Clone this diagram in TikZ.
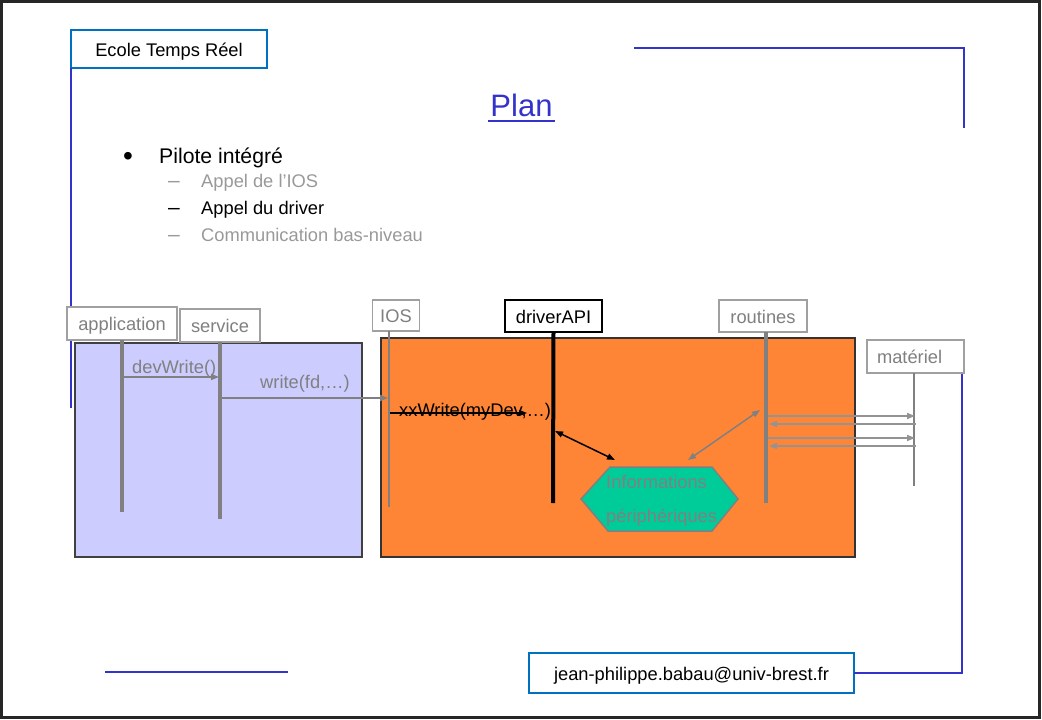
\documentclass[tikz,border=0pt]{standalone}
\usepackage{fontspec}
\setmainfont{Liberation Sans}
\usetikzlibrary{arrows.meta}
\definecolor{lav}{HTML}{CCCCFF}
\definecolor{orng}{HTML}{FF8536}
\definecolor{grn}{HTML}{00CC99}
\definecolor{bl}{HTML}{3333CC}
\definecolor{bbox}{HTML}{0070C0}
\definecolor{gtxt}{HTML}{808080}
\definecolor{gbord}{HTML}{A0A0A0}
\definecolor{litem}{HTML}{999999}
\tikzset{
  blueline/.style={draw=bl, line width=2},
  bluebox/.style={draw=bbox, line width=2.6, fill=white, outer sep=0, text height=14, text depth=0},
  gbox/.style={draw=gbord, line width=1.5, fill=white, text=gtxt, outer sep=0, text height=14, text depth=0},
  kbox/.style={draw=black, line width=1.5, fill=white, text=black, outer sep=0, text height=14, text depth=0},
  bigrect/.style={line width=1.5, outer sep=0, anchor=north west},
  lifethick/.style={draw=gtxt, line width=4.5},
  lifethin/.style={draw=gtxt, line width=2},
  msg/.style={draw=gtxt, line width=1.5, -{Triangle[length=8pt,width=6pt]}},
  msgk/.style={draw=black, line width=1.2, -{Triangle[length=8pt,width=6pt]}},
  lbl/.style={anchor=base west, inner sep=0},
  dashlbl/.style={anchor=base west, inner sep=0, font=\fontsize{21}{24}\selectfont},
}
\begin{document}
\begin{tikzpicture}[x=1pt, y=-1pt, font=\fontsize{18.3}{21}\selectfont]
\useasboundingbox (0,0) rectangle (1042,720);
\draw[line width=3, draw=black!85] (1.5,1.5) rectangle (1039.5,717.5);

% decorative blue lines
\coordinate (tl1) at (634,48);
\coordinate (tl2) at (964,128);
\draw[blueline] (tl1) -| (tl2);
\coordinate (bl1) at (105,672);
\coordinate (bl2) at (288,672);
\draw[blueline] (bl1) -- (bl2);

% header / footer boxes
\node[bluebox, minimum width=196, minimum height=38] (ecole) at (169,49) {Ecole Temps Réel};
\coordinate (ecoleEnd) at (71,408);
\draw[blueline] (ecole.south west) -- (ecoleEnd);

\node[bluebox, minimum width=325, minimum height=40] (email) at (691.5,673) {jean-philippe.babau@univ-brest.fr};
\coordinate (matBlue) at (962,354);
\draw[blueline] (matBlue) |- (email.east);

% title
\node[anchor=base, inner sep=0, text=bl, font=\fontsize{31}{36}\selectfont] (plan) at (521.5,116) {Plan};
\draw[bl, line width=2] ([xshift=-2pt,yshift=-5pt]plan.base west) -- ([xshift=2pt,yshift=-5pt]plan.base east);

% bullet list
\node[anchor=base, inner sep=0, font=\fontsize{28}{30}\selectfont] (dot) at (128,165) {•};
\node[lbl, font=\fontsize{21.2}{24}\selectfont] (b1) at (159,163) {Pilote intégré};
\node[dashlbl, text=litem] (d1) at (168,187) {–};
\node[lbl, text=litem] (s1) at (201,187) {Appel de l’IOS};
\node[dashlbl, text=black] (d2) at (168,214) {–};
\node[lbl, text=black] (s2) at (201,214) {Appel du driver};
\node[dashlbl, text=litem] (d3) at (168,241) {–};
\node[lbl, text=litem] (s3) at (201,241) {Communication bas-niveau};

% background rectangles
\node[bigrect, draw=black!75, fill=lav, minimum width=287, minimum height=214] (appzone) at (75,343) {};
\node[bigrect, draw=black!80, fill=orng, minimum width=474, minimum height=219] (drvzone) at (381,338) {};

% participant boxes
\node[gbox, minimum width=110, minimum height=33] (app) at (122,323.5) {application};
\node[gbox, minimum width=80, minimum height=33] (service) at (220,325.5) {service};
\node[gbox, minimum width=47, minimum height=31] (ios) at (396,315.5) {IOS};
\node[kbox, minimum width=97, minimum height=32] (driver) at (553.5,316) {driverAPI};
\node[gbox, minimum width=88, minimum height=32] (routines) at (763,316) {routines};
\node[gbox, text width=77, inner xsep=10, align=left, minimum height=33] (mat) at (915.5,356.5) {matériel};

% lifelines
\coordinate (appEnd) at (122,512);
\draw[lifethick] (app.south) -- (appEnd);
\coordinate (svcEnd) at (220,519);
\draw[lifethick, line width=4] (service.south) -- (svcEnd);
\coordinate (iosEnd) at (389,507);
\draw[lifethin] (ios.south -| iosEnd) -- (iosEnd);
\coordinate (drvEnd) at (553,503);
\draw[draw=black, line width=4] (driver.south) -- (drvEnd);
\coordinate (rtEnd) at (766,503);
\draw[lifethick, line width=4] (routines.south -| rtEnd) -- (rtEnd);
\coordinate (matEnd) at (914,486);
\draw[lifethin] (mat.south -| matEnd) -- (matEnd);

% messages
\coordinate (dwA) at (124,377);
\coordinate (dwB) at (219,377);
\draw[msg] (dwA) -- (dwB);
\node[lbl, text=gtxt] (devw) at (132,373) {devWrite()};

\coordinate (wrA) at (222,398);
\coordinate (wrB) at (388,398);
\draw[msg] (wrA) -- (wrB);
\node[lbl, text=gtxt] (wrt) at (260,388) {write(fd,…)};

\coordinate (xxA) at (390,413);
\coordinate (xxB) at (527,413);
\draw[msgk] (xxA) -- (xxB);
\node[lbl, text=black] (xxw) at (399,416) {xxWrite(myDev,…)};

% information hexagon
\coordinate (h1) at (581,499);
\coordinate (h2) at (610,467);
\coordinate (h3) at (712,467);
\coordinate (h4) at (738,499);
\coordinate (h5) at (712,531);
\coordinate (h6) at (608,531);
\draw[fill=grn, draw=gtxt, line width=1.5] (h1) -- (h2) -- (h3) -- (h4) -- (h5) -- (h6) -- cycle;
\node[lbl, text=gtxt] (info1) at (606,488) {Informations};
\node[lbl, text=gtxt] (info2) at (606,522) {périphériques};

\coordinate (drvA) at (555,431);
\coordinate (hexA) at (615,460);
\draw[draw=black, line width=1.5, {Triangle[length=8pt,width=6pt]}-{Triangle[length=8pt,width=6pt]}] (drvA) -- (hexA);
\coordinate (hexB) at (688,460);
\coordinate (rtA) at (760,410);
\draw[draw=gtxt, line width=1.5, {Triangle[length=8pt,width=6pt]}-{Triangle[length=8pt,width=6pt]}] (hexB) -- (rtA);

% routines <-> materiel
\coordinate (r1) at (768,416); \coordinate (m1) at (915,416);
\coordinate (r2) at (769,424); \coordinate (m2) at (916,424);
\coordinate (r3) at (768,438); \coordinate (m3) at (915,438);
\coordinate (r4) at (769,446); \coordinate (m4) at (916,446);
\draw[msg, draw=gray!85] (r1) -- (m1);
\draw[msg, draw=gray!85] (m2) -- (r2);
\draw[msg, draw=gray!85] (r3) -- (m3);
\draw[msg, draw=gray!85] (m4) -- (r4);
\end{tikzpicture}
\end{document}
